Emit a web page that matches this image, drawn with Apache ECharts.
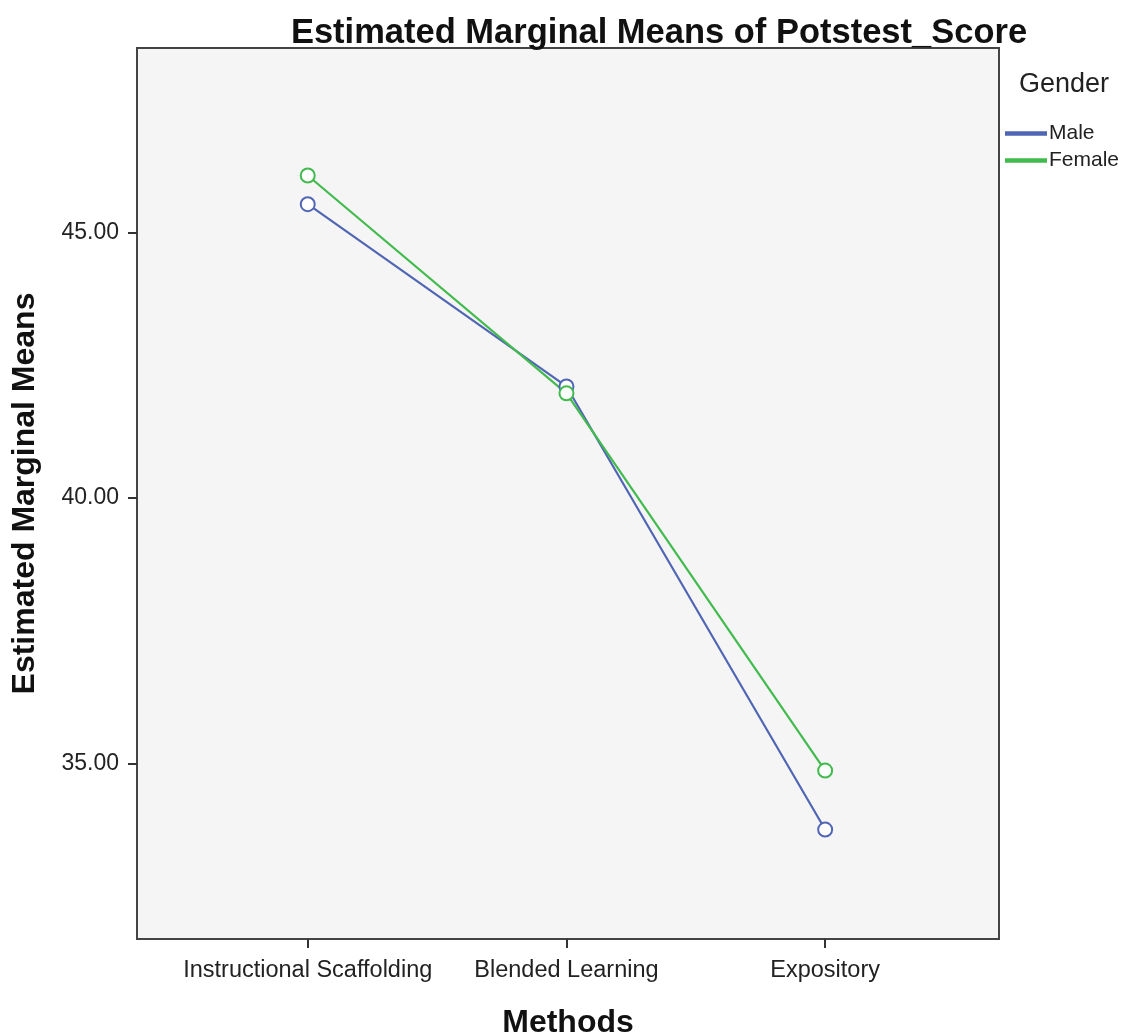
<!DOCTYPE html>
<html>
<head>
<meta charset="utf-8">
<script src="https://cdn.jsdelivr.net/npm/echarts@6/dist/echarts.min.js"></script>
<style>html,body{margin:0;padding:0;background:#fff;}#c{width:1132px;height:1036px;}</style>
</head>
<body>
<div id="c"></div>
<script>
const categories = ["Instructional Scaffolding", "Blended Learning", "Expository"];
const maleValues = [45.53, 42.10, 33.76];
const femaleValues = [46.07, 41.97, 34.87];
const yTicks = [35, 40, 45];

const chart = echarts.init(document.getElementById('c'));
const toPts = vals => vals.map((v, i) => [i, v]);
const font = 'Arial, "Liberation Sans", sans-serif';
chart.setOption({
  animation: false,
  backgroundColor: '#fff',
  title: {
    text: 'Estimated Marginal Means of Potstest_Score',
    left: 654, top: 11, textAlign: 'center',
    textStyle: { fontFamily: font, fontSize: 34.5, fontWeight: 'bold', color: '#111' }
  },
  graphic: [{
    type: 'text', left: 1019, top: 71,
    style: { text: 'Gender', font: '27px ' + font, fill: '#222' }
  }],
  legend: {
    orient: 'vertical', left: 1005, top: 123, itemGap: 6, padding: 0,
    itemWidth: 40, itemHeight: 2.5, icon: 'rect',
    textStyle: { fontFamily: font, fontSize: 21, color: '#222', padding: [0, 0, 0, -2] },
    data: ['Male', 'Female']
  },
  grid: { left: 137, right: 133, top: 48, bottom: 97, outerBoundsMode: 'none', containLabel: false,
    show: true, backgroundColor: '#f5f5f5', borderColor: '#444', borderWidth: 2 },
  xAxis: {
    type: 'value', min: -0.66, max: 2.672,
    name: 'Methods', nameLocation: 'middle', nameGap: 68,
    nameTextStyle: { fontFamily: font, fontSize: 32, fontWeight: 'bold', color: '#111' },
    axisLine: { show: true, onZero: false, lineStyle: { color: '#444', width: 2 } },
    splitLine: { show: false },
    axisTick: { show: true, customValues: [0, 1, 2], length: 9, lineStyle: { color: '#333', width: 2 } },
    axisLabel: { customValues: [0, 1, 2], margin: 20, fontFamily: font, fontSize: 23.5, color: '#222',
      formatter: v => categories[Math.round(v)] }
  },
  yAxis: {
    type: 'value', min: 31.7, max: 48.47,
    name: 'Estimated Marginal Means', nameLocation: 'middle', nameGap: 96,
    nameTextStyle: { fontFamily: font, fontSize: 32, fontWeight: 'bold', color: '#111' },
    axisLine: { show: true, onZero: false, lineStyle: { color: '#444', width: 2 } },
    splitLine: { show: false },
    axisTick: { show: true, customValues: yTicks, length: 9, lineStyle: { color: '#333', width: 2 } },
    axisLabel: { customValues: yTicks, margin: 18, fontFamily: font, fontSize: 23, color: '#222',
      formatter: v => v.toFixed(2) }
  },
  series: [
    { name: 'Male', type: 'line', data: toPts(maleValues), symbol: 'emptyCircle', symbolSize: 14,
      color: '#5066b4', lineStyle: { width: 2.2, color: '#5066b4' }, itemStyle: { borderWidth: 2, color: '#5066b4', borderColor: '#5066b4' } },
    { name: 'Female', type: 'line', data: toPts(femaleValues), symbol: 'emptyCircle', symbolSize: 14,
      color: '#42bb4e', lineStyle: { width: 2.2, color: '#42bb4e' }, itemStyle: { borderWidth: 2, color: '#42bb4e', borderColor: '#42bb4e' } }
  ]
});
</script>
</body>
</html>
